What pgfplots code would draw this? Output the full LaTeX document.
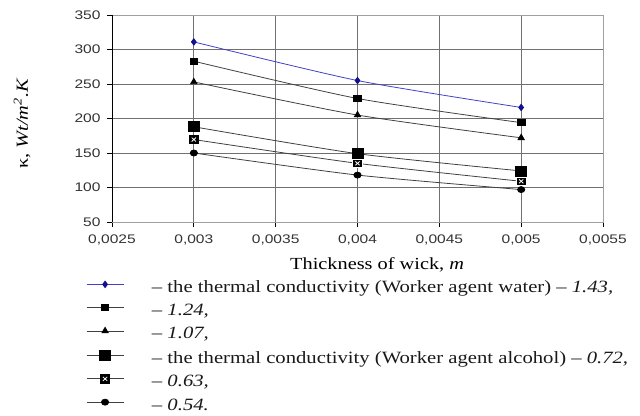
\documentclass[border=0pt]{standalone}
\usepackage{pgfplots}
\pgfplotsset{compat=1.18}
\usepackage{fontspec}
\setmainfont{Liberation Serif}[FakeStretch=1.2]
\newfontfamily\tickfont{Liberation Sans}[FakeStretch=1.25]
\definecolor{gridc}{HTML}{707070}
\definecolor{framec}{HTML}{A0A0A0}
\definecolor{bluel}{HTML}{4040C8}
\definecolor{bluem}{HTML}{10108A}
\definecolor{linec}{HTML}{404040}
\definecolor{tickc}{HTML}{333333}
\pgfdeclareplotmark{xsquare}{%
  \pgfpathrectangle{\pgfqpoint{-\pgfplotmarksize}{-\pgfplotmarksize}}{\pgfqpoint{2\pgfplotmarksize}{2\pgfplotmarksize}}%
  \pgfusepathqfillstroke
  \pgfsetstrokecolor{white}\pgfsetlinewidth{0.8pt}%
  \pgfpathmoveto{\pgfqpoint{-0.45\pgfplotmarksize}{-0.45\pgfplotmarksize}}%
  \pgfpathlineto{\pgfqpoint{0.45\pgfplotmarksize}{0.45\pgfplotmarksize}}%
  \pgfpathmoveto{\pgfqpoint{-0.45\pgfplotmarksize}{0.45\pgfplotmarksize}}%
  \pgfpathlineto{\pgfqpoint{0.45\pgfplotmarksize}{-0.45\pgfplotmarksize}}%
  \pgfusepathqstroke
}
\begin{document}
\begin{tikzpicture}
\useasboundingbox (0,0) rectangle (640bp,416bp);
\begin{axis}[
  at={(112bp,194bp)}, anchor=south west,
  scale only axis, width=491bp, height=207bp,
  xmin=0.0025, xmax=0.0055, ymin=50, ymax=350,
  xtick={0.0025,0.003,0.0035,0.004,0.0045,0.005,0.0055},
  xticklabels={{0,0025},{0,003},{0,0035},{0,004},{0,0045},{0,005},{0,0055}},
  ytick={50,100,...,350},
  scaled x ticks=false,
  tick align=outside, xtick pos=bottom, ytick pos=left,
  major tick length=5bp,
  tick style={black, line width=0.8pt},
  grid=major,
  grid style={gridc, line width=0.9pt},
  axis line style={framec, line width=0.9pt},
  ticklabel style={font=\tickfont\fontsize{12.5}{14}\selectfont, text=tickc},
  xticklabel style={yshift=-4bp},
  yticklabel style={/pgf/number format/assume math mode=true, xshift=-3bp},
  xlabel={Thickness of wick, \textit{m}},
  xlabel style={font=\fontsize{17}{20}\selectfont, at={(axis description cs:0.54,-0.208)}, anchor=center},
  ylabel={κ, \textit{Wt/m\textsuperscript{2}.K}},
  ylabel style={font=\fontsize{17}{20}\selectfont, at={(axis description cs:-0.183,0.475)}, anchor=center, rotate=0},
  legend style={at={(axis description cs:-0.053,-0.281)}, anchor=north west,
    draw=none, fill=none, font=\fontsize{17.3}{20}\selectfont, text=black!90,
    inner sep=0pt, row sep=7.3bp, column sep=28bp,
    nodes={inner sep=0pt, text height=12bp, text depth=4bp}},
  legend cell align=left,
  legend image code/.code={%
    \draw[mark repeat=2,mark phase=2,#1] plot coordinates {(0bp,4bp) (18.5bp,4bp) (37bp,4bp)};},
  every axis plot/.append style={line width=0.8pt, smooth, tension=0.4},
]
\draw[black, line width=0.9pt] (axis description cs:0,1) -- (axis description cs:0,0) -- (axis description cs:1,0);
\addplot[bluel, mark=diamond*, mark size=3.2bp, mark options={bluem, fill=bluem}]
  coordinates {(0.003,311) (0.004,255) (0.005,216)};
\addlegendentry{– the thermal conductivity (Worker agent water) – \textit{1.43,}}
\addplot[linec, mark=square*, mark size=3bp, mark options={black, fill=black, xscale=1.25}]
  coordinates {(0.003,283) (0.004,229) (0.005,194)};
\addlegendentry{– \textit{1.24,}}
\addplot[linec, mark=triangle*, mark size=3.6bp, mark options={black, fill=black}]
  coordinates {(0.003,253) (0.004,205) (0.005,172)};
\addlegendentry{– \textit{1.07,}}
\addplot[linec, mark=square*, mark size=5bp, mark options={black, fill=black, xscale=1.1}]
  coordinates {(0.003,188) (0.004,149) (0.005,124)};
\addlegendentry{– the thermal conductivity (Worker agent alcohol) – \textit{0.72,}}
\addplot[linec, mark=xsquare, mark size=4.3bp, mark options={black, fill=black, xscale=1.1}]
  coordinates {(0.003,169.5) (0.004,135) (0.005,109)};
\addlegendentry{– \textit{0.63,}}
\addplot[linec, mark=*, mark size=3bp, mark options={black, fill=black, xscale=1.2}]
  coordinates {(0.003,150) (0.004,118) (0.005,97)};
\addlegendentry{– \textit{0.54.}}
\end{axis}
\end{tikzpicture}
\end{document}
